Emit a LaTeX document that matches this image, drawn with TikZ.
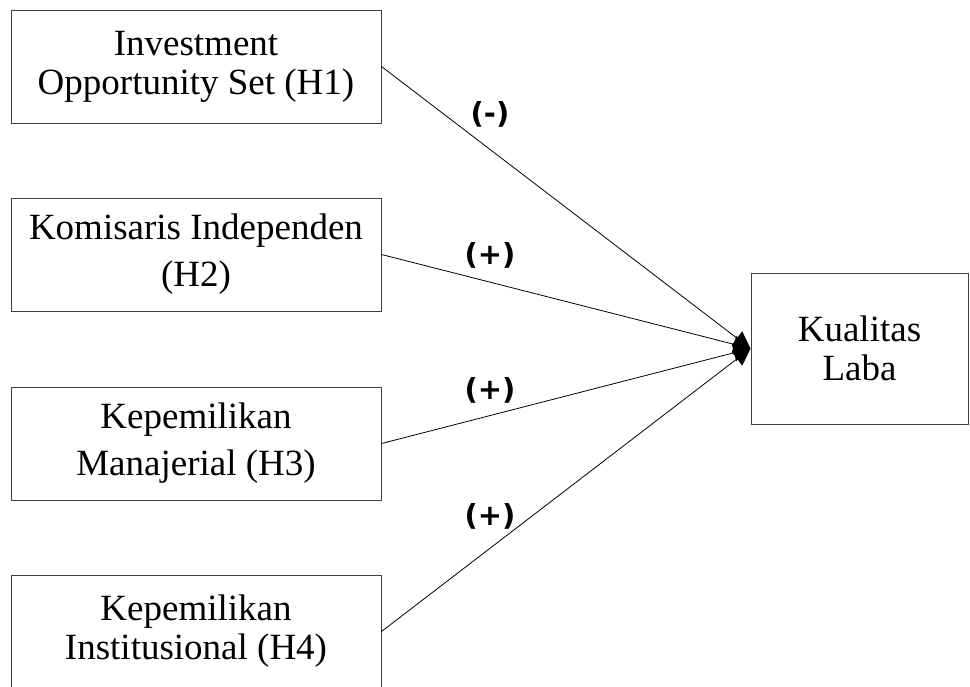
\documentclass[tikz,border=0pt]{standalone}
\usepackage{fontspec}
\setmainfont{Liberation Serif}
\newfontfamily\labelfont{DejaVu Sans}
\usetikzlibrary{arrows.meta}

\tikzset{
  varbox/.style={draw=black!75, line width=1pt, align=center,
    minimum width=370pt, minimum height=113pt, inner sep=0pt,
    font=\fontsize{37}{39}\selectfont},
  widebox/.style={varbox, font=\fontsize{37}{47}\selectfont},
  link/.style={line width=0.8pt, -{Triangle[length=17pt,width=17pt]}},
  sign/.style={font=\labelfont\bfseries\fontsize{29}{32}\selectfont}
}

\begin{document}
\begin{tikzpicture}[x=1pt, y=-1pt]
            \useasboundingbox (0,0) rectangle (970,686);

            % Variabel independen
            \node[varbox] (ios) at (196,66.5) {Investment\\Opportunity Set (H1)};
            \node[widebox] (ki) at (196,254.5) {Komisaris Independen\\(H2)};
            \node[widebox] (km) at (196,443.5) {Kepemilikan\\Manajerial (H3)};
            \node[varbox] (kin) at (196,631.5) {Kepemilikan\\Institusional (H4)};

            % Variabel dependen
            \node[varbox, minimum width=217pt, minimum height=151pt] (kl) at (859.5,348.5) {Kualitas\\Laba};

            % Hubungan
            \draw[link] (ios.east) -- (kl.west);
            \draw[link] (ki.east) -- (kl.west);
            \draw[link] (km.east) -- (kl.west);
            \draw[link] (kin.east) -- (kl.west);

            % Tanda
            \node[sign] (s1) at (490,114) {(-)};
            \node[sign] (s2) at (490,255) {(+)};
            \node[sign] (s3) at (490,390) {(+)};
            \node[sign] (s4) at (490,516) {(+)};
        \end{tikzpicture}
\end{document}
